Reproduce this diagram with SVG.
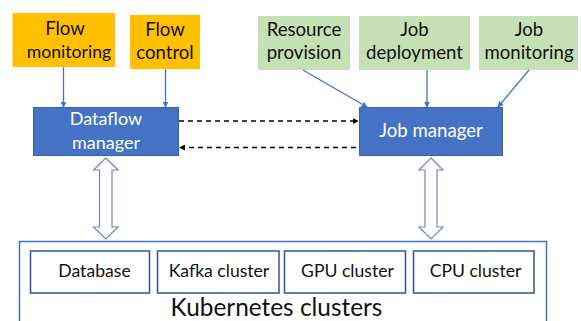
<svg xmlns="http://www.w3.org/2000/svg" width="581" height="321" viewBox="0 0 581 321">
<defs>
<style>
text{font-family:Lato,"Open Sans",sans-serif;text-anchor:middle}
.or{fill:#FFC000}
.gr{fill:#C5E0B4}
.bl{fill:#4472C4;stroke:#3A62AC;stroke-width:1}
.t{font-size:18.6px;fill:#111}
.w{font-size:18px;fill:#fff}
.box{fill:#fff;stroke:#2F5597;stroke-width:1.5}
.s{font-size:17.6px;fill:#111}
.ln{stroke:#4472C4;stroke-width:1.3;fill:none;marker-end:url(#ah)}
.da{stroke:#000;stroke-width:1.3;stroke-dasharray:5,4;fill:none}
.big{fill:#fff;stroke:#6C87C0;stroke-width:1.2}
</style>
<marker id="ah" viewBox="0 0 8 8" refX="7" refY="4" markerWidth="6" markerHeight="6" orient="auto" markerUnits="userSpaceOnUse"><path d="M0,0L8,4L0,8z" fill="#4472C4"/></marker>
<marker id="ak" viewBox="0 0 8 8" refX="7" refY="4" markerWidth="6" markerHeight="6" orient="auto-start-reverse" markerUnits="userSpaceOnUse"><path d="M0,0L8,4L0,8z" fill="#000"/></marker>
</defs>
<g id="flow-monitoring"><rect class="or" x="12.5" y="13" width="102.5" height="54"/><text class="t" x="65" y="35">Flow</text><text class="t" x="69" y="58" style="font-size:17.6px">monitoring</text></g>
<g id="flow-control"><rect class="or" x="130" y="15" width="70" height="54"/><text class="t" x="165" y="36">Flow</text><text class="t" x="165" y="59">control</text></g>
<g id="resource-provision"><rect class="gr" x="258" y="16" width="92" height="54"/><text class="t" x="304" y="36">Resource</text><text class="t" x="304" y="59">provision</text></g>
<g id="job-deployment"><rect class="gr" x="359" y="16" width="111" height="54"/><text class="t" x="414.5" y="36">Job</text><text class="t" x="414.5" y="59">deployment</text></g>
<g id="job-monitoring"><rect class="gr" x="479" y="16" width="99" height="54"/><text class="t" x="529" y="36">Job</text><text class="t" x="529" y="59">monitoring</text></g>
<g id="dataflow-manager"><rect class="bl" x="33.5" y="107.5" width="145" height="48"/><text class="w" x="106" y="125">Dataflow</text><text class="w" x="106" y="148.5">manager</text></g>
<g id="job-manager"><rect class="bl" x="359.5" y="107.5" width="143" height="48"/><text class="w" x="431" y="137" style="font-size:18.6px">Job manager</text></g>
<g id="kubernetes-clusters"><rect fill="#fff" stroke="#4472C4" stroke-width="1.5" x="19.5" y="241.5" width="527" height="85"/><text x="276.5" y="316" style="font-size:24.4px;fill:#111">Kubernetes clusters</text></g>
<g id="database"><rect class="box" x="30.5" y="251" width="119" height="42"/><text class="s" x="94.5" y="277">Database</text></g>
<g id="kafka-cluster"><rect class="box" x="157.5" y="251" width="121.5" height="42"/><text class="s" x="219" y="277">Kafka cluster</text></g>
<g id="gpu-cluster"><rect class="box" x="284.5" y="251" width="121" height="42"/><text class="s" x="347.5" y="277">GPU cluster</text></g>
<g id="cpu-cluster"><rect class="box" x="413.5" y="251" width="120.5" height="42"/><text class="s" x="475.5" y="277">CPU cluster</text></g>
<g id="connectors">
<line class="ln" x1="63.5" y1="67" x2="63.5" y2="107"/>
<line class="ln" x1="165.5" y1="69" x2="165.5" y2="107"/>
<line class="ln" x1="303" y1="70" x2="367" y2="107"/>
<line class="ln" x1="427" y1="70" x2="427" y2="107"/>
<line class="ln" x1="529" y1="70" x2="498" y2="107"/>
<line class="da" x1="179" y1="121" x2="358" y2="121" marker-end="url(#ak)"/>
<line class="da" x1="180" y1="147.5" x2="359" y2="147.5" marker-start="url(#ak)"/>
<path class="big" d="M105.7,158L118,170L112,170L112,227L118,227L105.7,239L93.5,227L99.5,227L99.5,170L93.5,170Z"/>
<path class="big" d="M431,158L443,170L437,170L437,227L443,227L431,239L419,227L425,227L425,170L419,170Z"/>
</g>
</svg>
